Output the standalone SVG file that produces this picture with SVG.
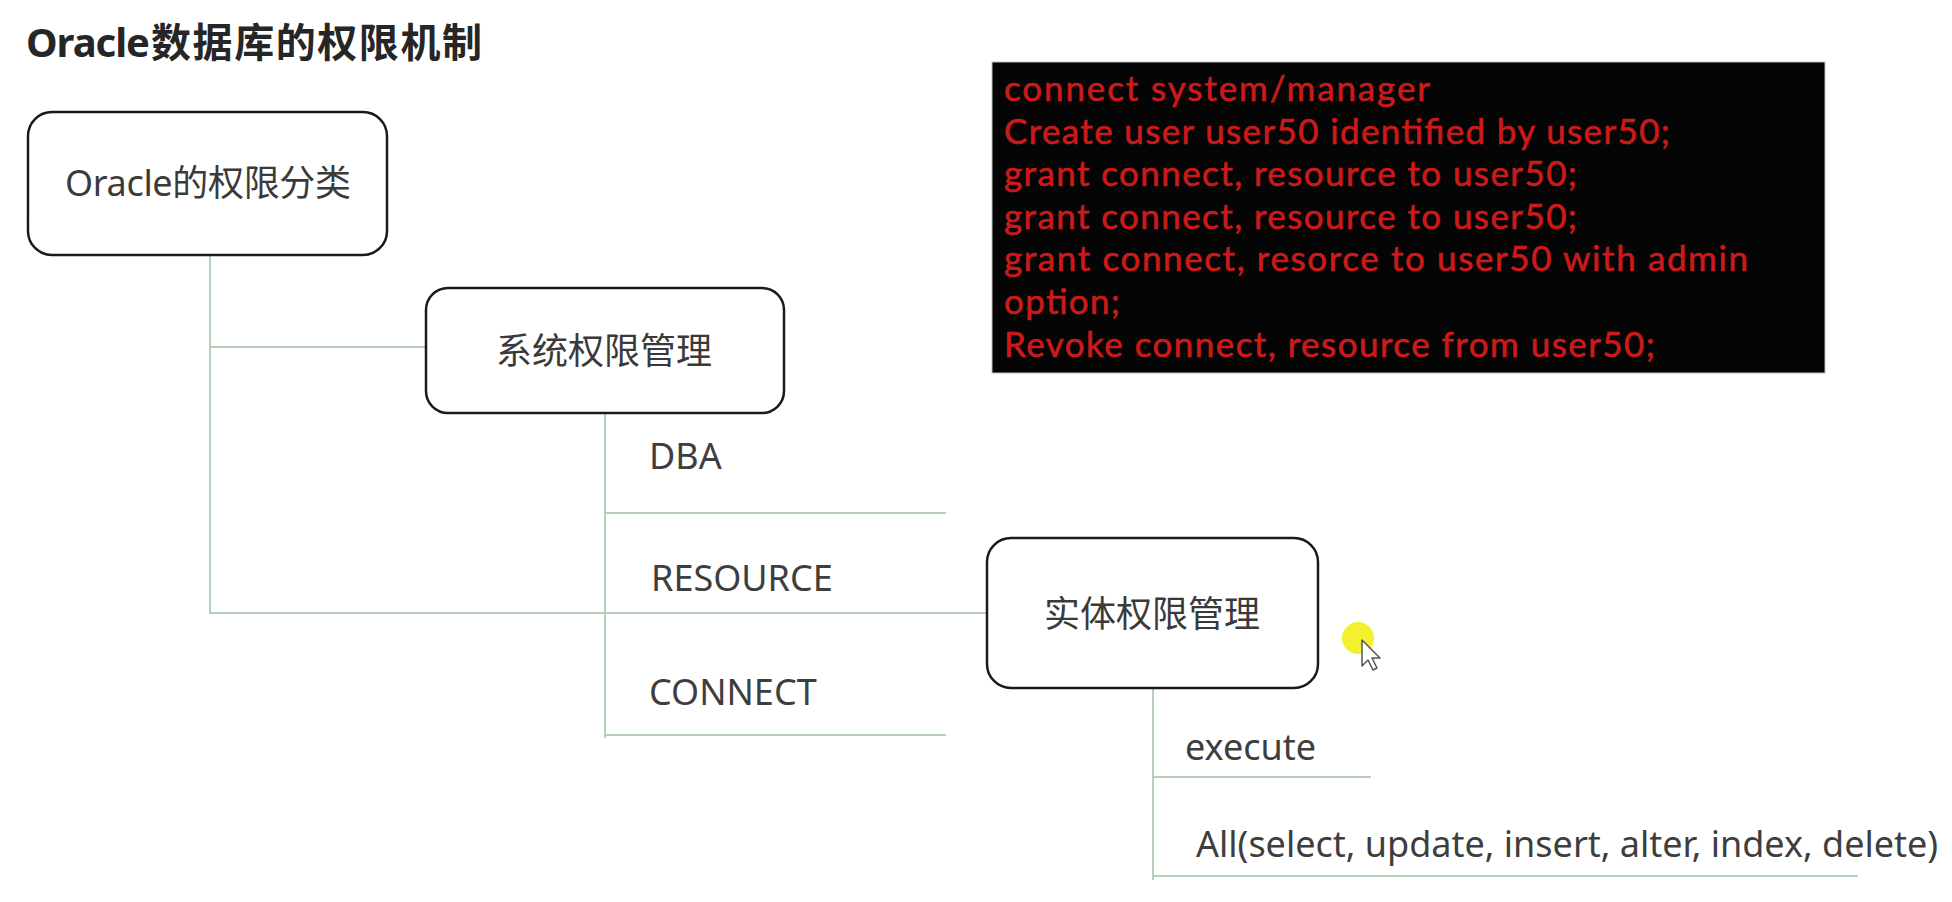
<svg xmlns="http://www.w3.org/2000/svg" width="1952" height="902" viewBox="0 0 1952 902">
<style>
text { font-family: "Noto Sans", "Noto Sans CJK SC", sans-serif; }
.title { font-size: 40px; font-weight: bold; fill: #262626; }
.node rect { fill: #ffffff; stroke: #1a1a1a; stroke-width: 2.5; }
.node text { font-size: 36px; fill: #3a3a3a; text-anchor: middle; }
.lbl { font-size: 36px; fill: #3e3e3e; }
.conn { stroke: #b7cfb7; stroke-width: 2; fill: none; }
.code { font-family: Lato, "Noto Sans", sans-serif; font-size: 35px; fill: #cc1a1a; stroke: #cc1a1a; stroke-width: 0.6; }
</style>
<rect x="0" y="0" width="1952" height="902" fill="#ffffff"/>
<text class="title" y="57"><tspan x="26" textLength="124" lengthAdjust="spacing">Oracle</tspan><tspan x="151" textLength="331" lengthAdjust="spacing">数据库的权限机制</tspan></text>

<g id="connectors">
  <path class="conn" d="M210 255 V613 H987"/>
  <path class="conn" d="M210 347 H426"/>
  <path class="conn" d="M605 413 V738"/>
  <path class="conn" d="M605 513 H946"/>
  <path class="conn" d="M605 735 H946"/>
  <path class="conn" d="M1153 688 V880"/>
  <path class="conn" d="M1153 777 H1371"/>
  <path class="conn" d="M1153 876 H1858"/>
</g>

<g id="node-oracle" class="node">
  <rect x="28" y="112" width="359" height="143" rx="24"/>
  <text x="208" y="196" textLength="286" lengthAdjust="spacing">Oracle的权限分类</text>
</g>
<g id="node-sys" class="node">
  <rect x="426" y="288" width="358" height="125" rx="22"/>
  <text x="604" y="364">系统权限管理</text>
</g>
<g id="node-obj" class="node">
  <rect x="987" y="538" width="331" height="150" rx="24"/>
  <text x="1152" y="627">实体权限管理</text>
</g>

<g id="label-dba"><text class="lbl" x="649" y="469">DBA</text></g>
<g id="label-resource"><text class="lbl" x="651" y="591">RESOURCE</text></g>
<g id="label-connect"><text class="lbl" x="649" y="705">CONNECT</text></g>
<g id="label-execute"><text class="lbl" x="1185" y="760">execute</text></g>
<g id="label-all"><text class="lbl" x="1196" y="857">All(select, update, insert, alter, index, delete)</text></g>

<g id="code-box">
  <rect x="992" y="62" width="833" height="311" fill="#050505" stroke="#bdbdbd" stroke-width="1"/>
  <text class="code" x="1004" y="101" textLength="426" lengthAdjust="spacing">connect system/manager</text>
  <text class="code" x="1004" y="144" textLength="666" lengthAdjust="spacing">Create user user50 identified by user50;</text>
  <text class="code" x="1004" y="186" textLength="573" lengthAdjust="spacing">grant connect, resource to user50;</text>
  <text class="code" x="1004" y="229" textLength="573" lengthAdjust="spacing">grant connect, resource to user50;</text>
  <text class="code" x="1004" y="271" textLength="744" lengthAdjust="spacing">grant connect, resorce to user50 with admin</text>
  <text class="code" x="1004" y="314" textLength="116" lengthAdjust="spacing">option;</text>
  <text class="code" x="1004" y="357" textLength="651" lengthAdjust="spacing">Revoke connect, resource from user50;</text>
</g>

<g id="cursor">
  <circle cx="1358" cy="638" r="16" fill="#f2ee1a" opacity="0.9"/>
  <path d="M1362 640 V666 L1368 660 L1373 670 L1377 668 L1372 658 L1380 658 Z" fill="#ffffff" stroke="#555555" stroke-width="1.5" stroke-linejoin="round"/>
</g>
</svg>
